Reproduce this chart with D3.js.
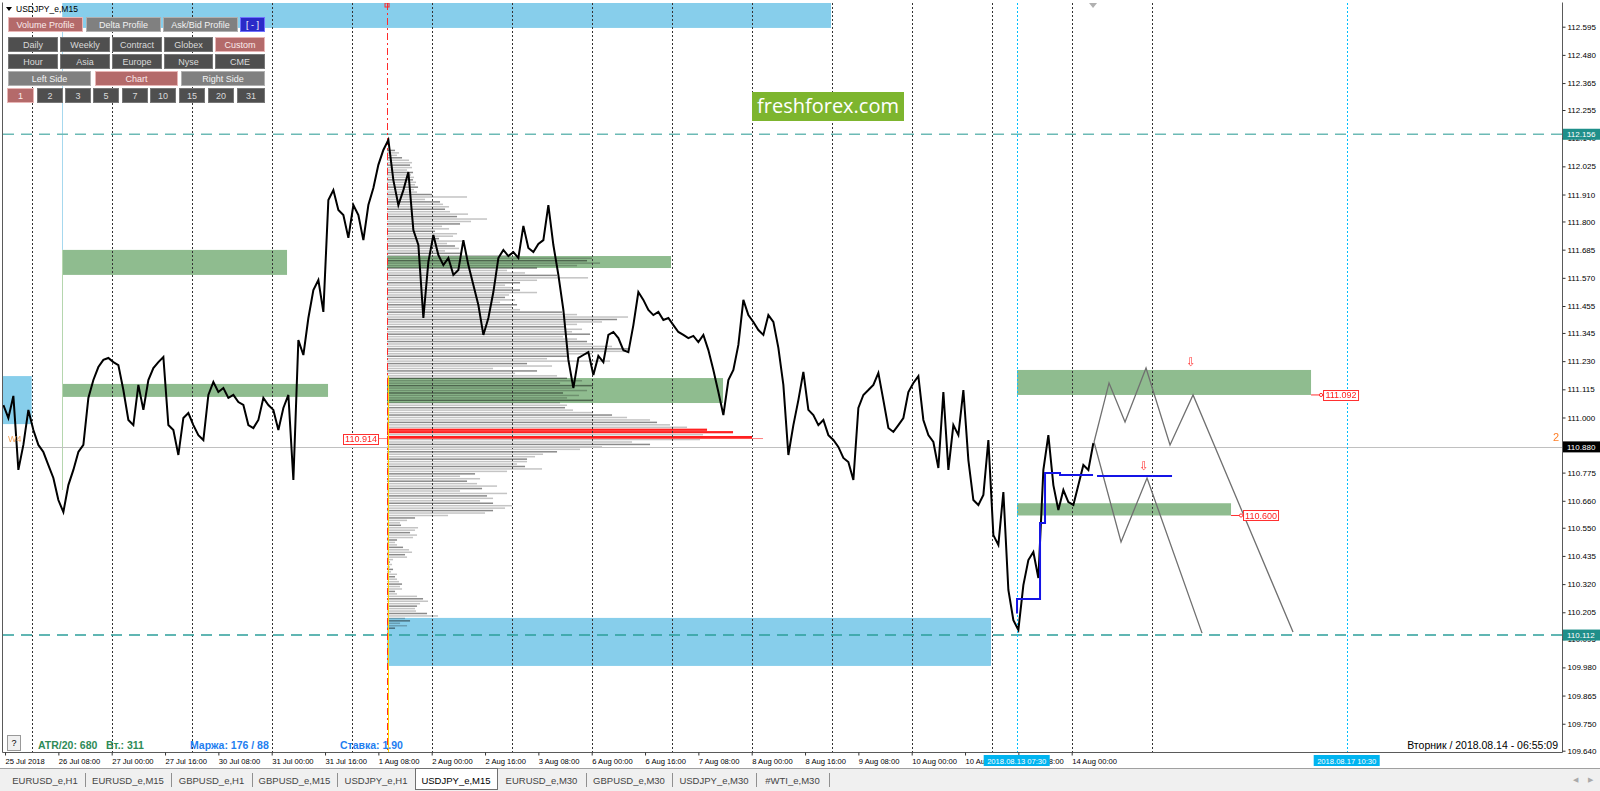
<!DOCTYPE html>
<html><head><meta charset="utf-8">
<script src="https://cdn.jsdelivr.net/npm/d3@7"></script>
<style>
html,body{margin:0;padding:0;background:#fff;overflow:hidden}
svg{display:block;font-family:"Liberation Sans",Arial,sans-serif}
</style></head><body>
<svg id="c" width="1600" height="791"></svg>
<script>
// ---------------- DATA ----------------
const symbol = "USDJPY_e,M15";
// time axis in trading hours since 25 Jul 2018 00:00 (weekends removed)
const xTickLabels = ["25 Jul 2018","26 Jul 08:00","27 Jul 00:00","27 Jul 16:00","30 Jul 08:00","31 Jul 00:00","31 Jul 16:00","1 Aug 08:00","2 Aug 00:00","2 Aug 16:00","3 Aug 08:00","6 Aug 00:00","6 Aug 16:00","7 Aug 08:00","8 Aug 00:00","8 Aug 16:00","9 Aug 08:00","10 Aug 00:00","10 Aug 16:00","13 Aug 08:00","14 Aug 00:00"];
const xTickHours = [16,32,48,64,80,96,112,128,144,160,176,192,208,224,240,256,272,288,304,320,336];
const daySeparatorHours = [24,48,72,96,120,144,168,192,216,240,264,288,312,336,360];
const yTicks = [112.595,112.480,112.365,112.255,112.140,112.025,111.910,111.800,111.685,111.570,111.455,111.345,111.230,111.115,111.000,110.775,110.660,110.550,110.435,110.320,110.205,110.095,109.980,109.865,109.750,109.640];

// price series (sampled every 1.5 trading hours from hour 15.5)
const priceStartHour = 15.5, priceStepHours = 1.5;
const closes = [
111.051,110.998,111.088,110.786,110.888,111.031,110.949,110.888,110.859,110.806,
110.753,110.663,110.614,110.724,110.786,110.859,110.888,111.080,111.153,111.206,
111.235,111.243,111.226,111.214,111.112,110.990,110.969,111.133,111.031,111.153,
111.202,111.226,111.247,110.969,110.949,110.847,110.998,111.018,110.969,110.928,
110.908,111.092,111.145,111.104,111.120,111.080,111.092,111.063,111.051,110.969,
110.957,110.990,111.080,111.051,111.031,110.949,111.039,111.092,110.745,111.316,
111.255,111.406,111.520,111.561,111.431,111.888,111.928,111.847,111.826,111.733,
111.867,111.826,111.724,111.867,111.937,112.031,112.092,112.133,111.969,111.867,
111.928,112.002,111.765,111.704,111.406,111.635,111.745,111.663,111.622,111.651,
111.582,111.602,111.724,111.622,111.541,111.459,111.337,111.406,111.512,111.651,
111.684,111.659,111.675,111.651,111.782,111.692,111.675,111.708,111.724,111.867,
111.704,111.582,111.439,111.235,111.120,111.243,111.255,111.267,111.173,111.251,
111.226,111.337,111.349,111.324,111.275,111.267,111.377,111.512,111.480,111.439,
111.418,111.431,111.398,111.406,111.377,111.349,111.337,111.324,111.333,111.308,
111.337,111.275,111.194,111.104,111.010,111.153,111.194,111.296,111.480,111.418,
111.390,111.357,111.337,111.418,111.390,111.284,111.133,110.847,110.969,111.071,
111.186,111.031,111.010,110.969,110.990,110.928,110.908,110.880,110.835,110.818,
110.745,111.039,111.092,111.112,111.133,111.182,111.071,110.957,110.941,110.969,
110.998,111.104,111.141,111.169,110.990,110.928,110.900,110.794,111.104,110.786,
110.969,110.928,111.112,110.826,110.663,110.643,110.684,110.908,110.520,110.480,
110.696,110.296,110.173,110.133,110.316,110.418,110.451,110.345,110.786,110.928,
110.724,110.622,110.704,110.655,110.643,110.724,110.806,110.786,110.896];

// zones: [startHour, endHour, high, low]
const blueZones = [[33.1,263.8,112.75,112.590],[10,24,111.169,110.973],[130.6,311.8,110.182,109.986]];
const greenZones = [[33.1,100.6,111.684,111.582],[33.1,112.9,111.137,111.084],[130.6,215.8,111.659,111.610],[130.6,231.4,111.161,111.059],[319.6,407.8,111.194,111.092],[319.6,383.8,110.650,110.600]];

// volume profile from 1 Aug 10:30
const profileStartHour = 130.6, profileTopPrice = 112.09, profileStep = 0.01;
const profileVolume = [
8,12,10,15,22,25,23,25,20,26, 24,27,26,29,28,31,27,30,45,80,
38,53,56,62,58,63,81,70,100,84, 73,55,62,48,70,66,52,75,60,68,
72,58,75,120,205,200,213,190,150,120, 138,170,201,150,133,118,126,133,150,122,
118,128,113,130,125,133,175,190,241,230, 215,190,178,195,185,203,176,190,200,206,
225,243,238,205,180,160,223,140,165,106, 150,128,170,180,195,173,206,185,200,176,
192,180,205,173,180,178,186,206,225,240, 263,270,283,300,320,346,316,365,313,245,
263,215,193,170,156,148,140,140,130,138, 155,120,88,73,93,80,90,110,95,73,
120,100,106,93,106,125,118,106,98,61, 28,20,13,14,31,28,23,30,26,10,
8,10,16,22,25,18,20,6,3,5, 3,6,4,10,8,10,12,15,13,15,
8,10,30,36,41,33,30,28,29,40, 51,18,23,13,20,8];
const pocPrice = 110.914;

// levels
const dashedLevels = [112.156, 110.112];
const lastPrice = 110.880;
const boxLabels = [{price:111.092, hour:407.8}, {price:110.600, hour:383.8}];

// blue step line [hour, price]
const blueStep = [[319.6,110.200],[319.6,110.259],[326.5,110.259],[326.5,110.569],[328,110.569],[328,110.773],[332.5,110.773],[332.5,110.765],[342.4,110.765]];
const blueLevel = [[343.6,110.761],[366.1,110.761]];
// projected paths
const zigUpper = [[342.7,110.900],[347.2,111.141],[352.0,110.982],[358.3,111.202],[365.5,110.888],[372.4,111.092],[402.4,110.124]];
const zigLower = [[342.7,110.900],[350.8,110.492],[358.6,110.753],[375.1,110.120]];
const arrows = [[371.8,111.231],[357.7,110.806]];
// vertical cursors
const cursors = [{hour:319.5,label:"2018.08.13 07:30"},{hour:418.5,label:"2018.08.17 10:30"}];

const tabs = ["EURUSD_e,H1","EURUSD_e,M15","GBPUSD_e,H1","GBPUSD_e,M15","USDJPY_e,H1","USDJPY_e,M15","EURUSD_e,M30","GBPUSD_e,M30","USDJPY_e,M30","#WTI_e,M30"];
const activeTab = 5;

// ---------------- LAYOUT ----------------
const P = {l:3, r:1562, t:3, b:752};
const x = d3.scaleLinear().domain([0,480]).range([-48.3,1551.7]);
const y = d3.scaleLinear().domain([109.640,112.595]).range([750.7,26.7]);
const vol = d3.scaleLinear().domain([0,365]).range([0,365]);
const px = v => Math.round(v)+0.5;

const svg = d3.select("#c");
svg.append("rect").attr("width",1600).attr("height",791).attr("fill","#fff");
svg.append("defs").append("clipPath").attr("id","pc").append("rect")
  .attr("x",P.l).attr("y",P.t).attr("width",P.r-P.l).attr("height",P.b-P.t);
const g = svg.append("g").attr("clip-path","url(#pc)");

// zones
g.selectAll("rect.bz").data(blueZones).join("rect").attr("class","bz")
  .attr("x",d=>x(d[0])).attr("width",d=>x(d[1])-x(d[0]))
  .attr("y",d=>y(d[2])).attr("height",d=>y(d[3])-y(d[2])).attr("fill","#87ceeb");
g.selectAll("rect.gz").data(greenZones).join("rect").attr("class","gz")
  .attr("x",d=>x(d[0])).attr("width",d=>x(d[1])-x(d[0]))
  .attr("y",d=>y(d[2])).attr("height",d=>y(d[3])-y(d[2])).attr("fill","#8fbc8f");

// profile
const pg = g.append("g").style("mix-blend-mode","multiply");
const maxV = d3.max(profileVolume);
pg.selectAll("rect").data(profileVolume).join("rect")
  .attr("x",x(profileStartHour))
  .attr("y",(d,i)=>y(profileTopPrice-i*profileStep)-(d>=320?1.1:0.75))
  .attr("height",d=>d>=320?(d===maxV?3:2.2):1.5)
  .attr("width",d=>vol(d))
  .attr("fill",(d,i)=>d>=320?"#ff2020":(i%3===0?"#8a8a8a":"#c4c4c4"));
g.append("line").attr("x1",378).attr("x2",x(profileStartHour)+vol(maxV)+11)
  .attr("y1",y(pocPrice)).attr("y2",y(pocPrice)).attr("stroke","#ff6060").attr("stroke-width",1).attr("opacity",0.8);

// left guide line
g.append("line").attr("x1",px(x(33.1))).attr("x2",px(x(33.1))).attr("y1",P.t).attr("y2",y(111.684)).attr("stroke","#a6d8ee");
g.append("line").attr("x1",px(x(33.1))).attr("x2",px(x(33.1))).attr("y1",y(111.684)).attr("y2",490).attr("stroke","#b5d6ae");

// grid (day separators)
g.selectAll("line.grid").data(daySeparatorHours).join("line").attr("class","grid")
  .attr("x1",d=>px(x(d))).attr("x2",d=>px(x(d))).attr("y1",P.t).attr("y2",P.b)
  .attr("stroke","#333").attr("stroke-dasharray","2,2");

// last price line
g.append("line").attr("x1",P.l).attr("x2",P.r).attr("y1",px(y(lastPrice))).attr("y2",px(y(lastPrice))).attr("stroke","#c0c0c0");
// dashed levels
g.selectAll("line.lvl").data(dashedLevels).join("line").attr("class","lvl")
  .attr("x1",P.l).attr("x2",P.r).attr("y1",d=>y(d)).attr("y2",d=>y(d))
  .attr("stroke",(d,i)=>i===0?"#6cbab5":"#2c9f9a").attr("stroke-width",1.6).attr("stroke-dasharray","11,7");

// profile vertical line
g.append("line").attr("x1",px(x(profileStartHour))+1).attr("x2",px(x(profileStartHour))+1).attr("y1",y(111.17)).attr("y2",P.b).attr("stroke","#ffd400");
g.append("line").attr("x1",px(x(profileStartHour))).attr("x2",px(x(profileStartHour))).attr("y1",P.t).attr("y2",P.b)
  .attr("stroke","#ff2a2a").attr("stroke-dasharray","7,3,2,3");
g.append("rect").attr("x",x(profileStartHour)-2).attr("y",P.t).attr("width",4).attr("height",4).attr("fill","none").attr("stroke","#ff2a2a");

// cursors
g.selectAll("line.cur").data(cursors).join("line").attr("class","cur")
  .attr("x1",d=>px(x(d.hour))).attr("x2",d=>px(x(d.hour))).attr("y1",P.t).attr("y2",P.b)
  .attr("stroke","#00bfff").attr("stroke-dasharray","2,2");

// price line
const line = d3.line().x((d,i)=>x(priceStartHour+i*priceStepHours)).y(d=>y(d));
g.append("path").datum(closes).attr("d",line).attr("fill","none").attr("stroke","#000").attr("stroke-width",2).attr("stroke-linejoin","miter");

// projections
const pl = d3.line().x(d=>x(d[0])).y(d=>y(d[1]));
[zigUpper,zigLower].forEach(z=>g.append("path").datum(z).attr("d",pl).attr("fill","none").attr("stroke","#707070").attr("stroke-width",1.3));
g.append("path").datum(blueStep).attr("d",pl).attr("fill","none").attr("stroke","#1414e6").attr("stroke-width",2);
g.append("path").datum(blueLevel).attr("d",pl).attr("fill","none").attr("stroke","#1414e6").attr("stroke-width",2);
g.selectAll("text.arr").data(arrows).join("text").attr("class","arr")
  .attr("x",d=>x(d[0])).attr("y",d=>y(d[1])+5).attr("text-anchor","middle")
  .attr("font-family","DejaVu Sans").attr("font-size",12).attr("fill","#ff3b3b").text("\u21E9");

// price labels with boxes
function priceBox(px0, cy, txt){
  const w = 35;
  g.append("rect").attr("x",px0+0.5).attr("y",Math.round(cy-5)+0.5).attr("width",w).attr("height",10).attr("fill","#fff").attr("stroke","#ff3030");
  g.append("text").attr("x",px0+w/2+0.5).attr("y",cy+3.5).attr("text-anchor","middle").attr("font-size",9).attr("fill","#ff2020").text(txt);
}
priceBox(343, y(pocPrice), pocPrice.toFixed(3));
boxLabels.forEach(b=>{
  const x0 = x(b.hour);
  g.append("line").attr("x1",x0).attr("x2",x0+12).attr("y1",y(b.price)).attr("y2",y(b.price)).attr("stroke","#ff3030");
  g.append("circle").attr("cx",x0+10).attr("cy",y(b.price)).attr("r",1.6).attr("fill","#fff").attr("stroke","#ff3030");
  priceBox(x0+12, y(b.price), b.price.toFixed(3));
});
g.append("text").attr("x",1553).attr("y",441).attr("font-size",11).attr("fill","#ff7f27").text("2");
g.append("text").attr("x",8).attr("y",442).attr("font-size",9).attr("fill","#f6a860").text("W4");
// chart shift marker
g.append("path").attr("d",`M${x(342.4)-4},${P.t}L${x(342.4)+4},${P.t}L${x(342.4)},${P.t+5}Z`).attr("fill","#b0b0b0");

// logo
svg.append("rect").attr("x",752).attr("y",92).attr("width",152).attr("height",29).attr("fill","#7db52e");
svg.append("text").attr("x",828).attr("y",113).attr("text-anchor","middle").attr("font-family","Open Sans").attr("font-size",20).attr("fill","#fff").text("freshforex.com");

// header
svg.append("path").attr("d","M6,7L12,7L9,11Z").attr("fill","#000");
svg.append("text").attr("x",16).attr("y",12).attr("font-size",8.5).attr("fill","#000").text(symbol);

// buttons panel
const btnStyle = {
  red:{f:"#b46a6a",s:"#e8b6b6",t:"#fbeaea"},
  gray:{f:"#808080",s:"#b0b0b0",t:"#f2f2f2"},
  dark:{f:"#4f4f4f",s:"#777",t:"#dadada"},
  blue:{f:"#2a2ac8",s:"#7070ff",t:"#fff"}
};
const btnRows = [
  {y0:17,y1:31,b:[["Volume Profile",8,82,"red"],["Delta Profile",86,160,"gray"],["Ask/Bid Profile",163,237,"gray"],["[ - ]",240,264,"blue"]]},
  {y0:37,y1:51,b:[["Daily",8,57,"dark"],["Weekly",60,109,"dark"],["Contract",112,161,"dark"],["Globex",164,212,"dark"],["Custom",215,264,"red"]]},
  {y0:54,y1:68,b:[["Hour",8,57,"dark"],["Asia",60,109,"dark"],["Europe",112,161,"dark"],["Nyse",164,212,"dark"],["CME",215,264,"dark"]]},
  {y0:71,y1:85,b:[["Left Side",8,90,"gray"],["Chart",95,177,"red"],["Right Side",181,264,"gray"]]},
  {y0:88,y1:102,b:[["1",7,33,"red"],["2",37,62,"dark"],["3",65,90,"dark"],["5",93,118,"dark"],["7",122,147,"dark"],["10",150,175,"dark"],["15",179,204,"dark"],["20",208,233,"dark"],["31",237,264,"dark"]]}
];
btnRows.forEach(r=>r.b.forEach(b=>{
  const st = btnStyle[b[3]];
  svg.append("rect").attr("x",b[1]+0.5).attr("y",r.y0+0.5).attr("width",b[2]-b[1]).attr("height",r.y1-r.y0).attr("fill",st.f).attr("stroke",st.s);
  svg.append("text").attr("x",(b[1]+b[2])/2+0.5).attr("y",r.y0+10.5).attr("text-anchor","middle").attr("font-size",9).attr("fill",st.t).text(b[0]);
}));

// frame
svg.append("path").attr("d",`M${P.l-0.5},${P.t-0.5}V${P.b+0.5}H${P.r+0.5}V${P.t-0.5}`).attr("fill","none").attr("stroke","#5a5a5a");

// right axis
const ya = svg.append("g").attr("transform",`translate(${P.r+0.5},0)`)
  .call(d3.axisRight(y).tickValues(yTicks).tickFormat(d3.format(".3f")).tickSize(3).tickPadding(2));
ya.select(".domain").remove();
ya.attr("font-family","Liberation Sans").attr("font-size",8);
ya.selectAll("line").attr("stroke","#333");
ya.selectAll("text").attr("fill","#000");
const tags = [{p:112.156,bg:"#1f8f8a"},{p:lastPrice,bg:"#000"},{p:110.112,bg:"#1f8f8a"}];
tags.forEach(t=>{
  const cy = y(t.p);
  svg.append("rect").attr("x",1563).attr("y",cy-5.5).attr("width",37).attr("height",11).attr("fill",t.bg);
  svg.append("text").attr("x",1567).attr("y",cy+3).attr("font-size",8).attr("fill","#fff").text(t.p.toFixed(3));
});

// bottom axis
const xa = svg.append("g").attr("transform",`translate(0,${P.b+0.5})`)
  .call(d3.axisBottom(x).tickValues(xTickHours).tickFormat((d,i)=>xTickLabels[i]).tickSize(3).tickPadding(3));
xa.select(".domain").remove();
xa.attr("font-family","Liberation Sans").attr("font-size",7.6);
xa.selectAll("line").attr("stroke","#333");
xa.selectAll("text").attr("fill","#000").attr("text-anchor","start").attr("dx",0);
cursors.forEach(c=>{
  const cx = x(c.hour);
  svg.append("rect").attr("x",cx-33).attr("y",755).attr("width",66).attr("height",11).attr("fill","#00b4f0");
  svg.append("text").attr("x",cx).attr("y",763.5).attr("text-anchor","middle").attr("font-size",7.6).attr("fill","#fff").text(c.label);
});

// bottom info
svg.append("rect").attr("x",7.5).attr("y",735.5).attr("width",13).attr("height",15).attr("fill","#f0f0f0").attr("stroke","#999");
svg.append("text").attr("x",14).attr("y",746).attr("text-anchor","middle").attr("font-size",9).attr("fill","#000").text("?");
const infoTexts = [["ATR/20: 680",38,"#2e8b57"],["Вт.: 311",106,"#2e8b57"],["Маржа: 176 / 88",190,"#1e7ef0"],["Ставка: 1.90",340,"#1e7ef0"]];
infoTexts.forEach(t=>svg.append("text").attr("x",t[1]).attr("y",749).attr("font-size",10.5).attr("font-weight","bold").attr("fill",t[2]).text(t[0]));
svg.append("text").attr("x",1558).attr("y",749).attr("text-anchor","end").attr("font-size",10.5).attr("fill","#000").text("Вторник / 2018.08.14 - 06:55:09");

// tabs
svg.append("rect").attr("x",0).attr("y",768).attr("width",1600).attr("height",23).attr("fill","#f0f0f0");
svg.append("line").attr("x1",0).attr("x2",1600).attr("y1",768.5).attr("y2",768.5).attr("stroke","#a0a0a0");
const tabEdges = [5,85,171,252,337,415,497,586,672,756,829];
tabs.forEach((t,i)=>{
  const x0 = tabEdges[i], x1 = tabEdges[i+1];
  if(i===activeTab){
    svg.append("rect").attr("x",x0+0.5).attr("y",768.5).attr("width",x1-x0).attr("height",21).attr("fill","#fff").attr("stroke","#707070");
  } else if(i+1!==activeTab){
    svg.append("line").attr("x1",x1+0.5).attr("x2",x1+0.5).attr("y1",773).attr("y2",787).attr("stroke","#909090");
  }
  svg.append("text").attr("x",(x0+x1)/2).attr("y",784).attr("text-anchor","middle").attr("font-size",9.5).attr("fill",i===activeTab?"#000":"#444").text(t);
});
svg.append("text").attr("x",1575).attr("y",782).attr("font-size",7).attr("fill","#aaa").attr("text-anchor","middle").text("◀");
svg.append("text").attr("x",1590).attr("y",782).attr("font-size",7).attr("fill","#aaa").attr("text-anchor","middle").text("▶");
</script>
</body></html>
